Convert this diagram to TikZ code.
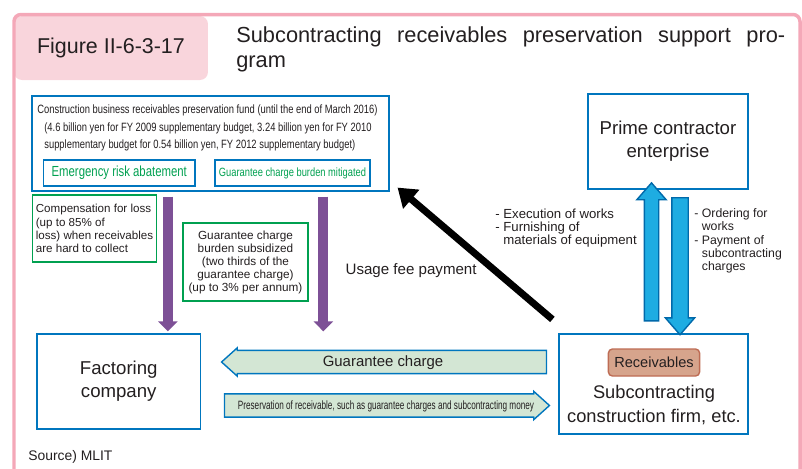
\documentclass[tikz,border=0pt]{standalone}
\usepackage{fontspec}
\setmainfont{Liberation Sans}
\newfontfamily\condensed{Liberation Sans}[FakeStretch=0.78]
\newfontfamily\xcondensed{Liberation Sans}[FakeStretch=0.68]
\usetikzlibrary{shapes.arrows,arrows.meta,calc}
\definecolor{framepink}{RGB}{244,168,184}
\definecolor{tabpink}{RGB}{249,213,220}
\definecolor{boxblue}{RGB}{0,118,190}
\definecolor{fundgreen}{RGB}{0,160,80}
\definecolor{paypurple}{RGB}{125,80,150}
\definecolor{flowblue}{RGB}{30,172,226}
\definecolor{flowedge}{RGB}{0,105,170}
\definecolor{bandgreen}{RGB}{211,230,212}
\definecolor{rcvfill}{RGB}{214,164,140}
\definecolor{rcvedge}{RGB}{190,108,84}
\definecolor{inkgray}{RGB}{35,31,32}

\begin{document}
\begin{tikzpicture}[
        x=0.02cm, y=-0.02cm,
        every node/.style={text=inkgray},
        figtab/.style={rectangle, fill=tabpink, rounded corners=0.16cm, minimum width=3.88cm, minimum height=1.28cm, font=\fontsize{12.2}{14}\selectfont},
        mainbox/.style={rectangle, draw=boxblue, line width=0.7pt, fill=white, align=center, font=\fontsize{10.6}{13}\selectfont},
        fundbox/.style={rectangle, draw=boxblue, line width=0.7pt, minimum width=7.14cm, minimum height=1.9cm},
        riskbox/.style={rectangle, draw=boxblue, line width=0.7pt, text=fundgreen, minimum height=0.52cm, inner sep=0pt},
        notebox/.style={rectangle, draw=fundgreen, line width=0.7pt, inner sep=0pt},
        rcvbox/.style={rectangle, rounded corners=0.08cm, draw=rcvedge, fill=rcvfill, line width=0.8pt, minimum width=1.8cm, minimum height=0.54cm, font=\fontsize{8.3}{10}\selectfont},
        sidenote/.style={align=left, inner sep=0pt},
        payarrow/.style={paypurple, line width=0.2cm, shorten <=0.1cm, shorten >=0.04cm, -{Triangle[width=0.38cm, length=0.2cm]}},
        feearrow/.style={black, line width=0.14cm, -{Triangle[width=0.48cm, length=0.36cm]}},
        flowarrow/.style={single arrow, draw=flowedge, fill=flowblue, line width=0.8pt, inner sep=0pt, inner ysep=0.13cm, single arrow head extend=0.15cm, single arrow tip angle=82, single arrow head indent=0pt},
        bandarrow/.style={single arrow, draw=boxblue, fill=bandgreen, line width=0.8pt, minimum height=6.5cm, inner xsep=0pt, inner ysep=2.1pt, text height=6.5pt, text depth=1.8pt, single arrow head extend=1.4pt, single arrow tip angle=84}
    ]
        \useasboundingbox (0,0) rectangle (802,468);

        % Frame and heading
        \node[figtab] (tab) at (111,48) {Figure II-6-3-17};
        \draw[framepink, line width=0.07cm, rounded corners=0.14cm] (14,490) -- (14,14.5) -- (800,14.5) -- (800,490);
        \node[anchor=north west, text width=10.98cm, align=justify, inner sep=0pt, font=\fontsize{12.4}{14.7}\selectfont] (title) at (236,26) {Subcontracting receivables preservation support pro-\linebreak gram};

        % Fund
        \node[fundbox] (fund) at (210.5,143.5) {};
        \node[anchor=north west, align=left, inner sep=0pt, font=\condensed\fontsize{6.85}{10.2}\selectfont] (fundtext) at (37,104) {Construction business receivables preservation fund (until the end of March 2016)\\\hspace*{0.14cm}(4.6 billion yen for FY 2009 supplementary budget, 3.24 billion yen for FY 2010\\\hspace*{0.14cm}supplementary budget for 0.54 billion yen, FY 2012 supplementary budget)};
        \node[riskbox, minimum width=3.03cm, font=\condensed\fontsize{8.3}{9}\selectfont] (risk) at (119.25,173) {Emergency risk abatement};
        \node[riskbox, minimum width=3.1cm, font=\condensed\fontsize{6.8}{8}\selectfont] (relief) at (292.5,173) {Guarantee charge burden mitigated};

        % Support notes
        \node[notebox, minimum width=2.48cm, minimum height=1.34cm, align=left, font=\fontsize{6.6}{7.5}\selectfont] (loss) at (94.5,228.5) {Compensation for loss\\(up to 85\% of\\loss) when receivables\\are hard to collect};
        \node[notebox, minimum width=2.5cm, minimum height=1.56cm, align=center, font=\fontsize{6.7}{7.4}\selectfont] (subsidy) at (245.5,262) {Guarantee charge\\burden subsidized\\(two thirds of the\\guarantee charge)\\(up to 3\% per annum)};

        % Parties
        \node[mainbox, minimum width=3.2cm, minimum height=1.9cm] (prime) at (668,141.5) {Prime contractor\\enterprise};
        \node[mainbox, minimum width=3.27cm, minimum height=1.9cm] (factor) at (118.75,381.5) {Factoring\\company};
        \node[mainbox, minimum width=3.78cm, minimum height=2cm] (sub) at (653.5,384) {};
        \node[rcvbox] (rcv) at (654,362.5) {Receivables};
        \node[align=center, font=\fontsize{10.4}{13.6}\selectfont] (subname) at (654,405) {Subcontracting\\construction firm, etc.};

        % Fund payments
        \coordinate (lossdrop) at ($(fund.south west)!0.381!(fund.south east)$);
        \coordinate (reliefdrop) at ($(fund.south west)!0.815!(fund.south east)$);
        \draw[payarrow] (lossdrop) -- (lossdrop |- factor.north);
        \draw[payarrow] (reliefdrop) -- (reliefdrop |- factor.north);

        % Usage fee
        \draw[feearrow] ([xshift=-0.12cm, yshift=0.28cm]sub.north west) -- node[pos=0.37, anchor=east, xshift=-0.3cm, inner sep=0pt, font=\fontsize{8.6}{10}\selectfont] (fee) {Usage fee payment} ([xshift=0.16cm, yshift=0.08cm]fund.south east);

        % Works and orders
        \node[flowarrow, rotate=90, minimum height=2.76cm] (works) at (651.5,256) {};
        \node[flowarrow, rotate=-90, minimum height=2.74cm, inner ysep=0.15cm, single arrow head extend=0.13cm] (orders) at (680,261.5) {};
        \node[sidenote, anchor=west, font=\fontsize{7.5}{7.6}\selectfont] (worksnote) at (495,228) {- Execution of works\\- Furnishing of\\\phantom{- }materials of equipment};
        \node[sidenote, anchor=west, font=\fontsize{7}{7.6}\selectfont] (ordersnote) at (694,241) {- Ordering for\\\phantom{- }works\\- Payment of\\\phantom{- }subcontracting\\\phantom{- }charges};

        % Guarantee charge and preservation
        \node[bandarrow, shape border rotate=180, font=\fontsize{8.5}{10}\selectfont] (charge) at (390.5,362) {Guarantee charge\hspace*{0.3cm}};
        \node[bandarrow, font=\xcondensed\fontsize{6.85}{8}\selectfont] (preserve) at (380.5,405.5) {\hspace*{0.22cm}Preservation of receivable, such as guarantee charges and subcontracting money};

        % Source
        \node[anchor=west, inner sep=0pt, font=\fontsize{7.9}{10}\selectfont] (source) at (28,457) {Source) MLIT};

    \end{tikzpicture}
\end{document}
